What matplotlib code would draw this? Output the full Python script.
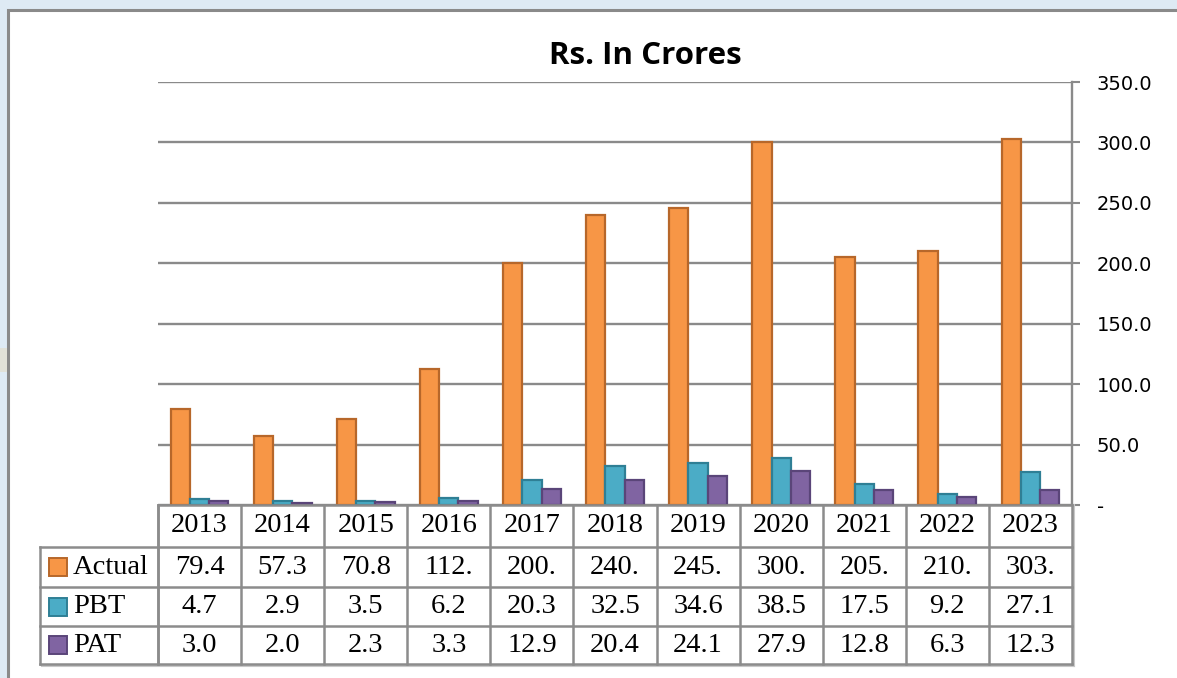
import matplotlib
matplotlib.use("Agg")
import matplotlib.pyplot as plt
from matplotlib.lines import Line2D
from matplotlib.patches import Rectangle
from matplotlib.transforms import blended_transform_factory
import numpy as np

years = ["2013", "2014", "2015", "2016", "2017", "2018", "2019", "2020", "2021", "2022", "2023"]
series_names = ["Actual", "PBT", "PAT"]
actual = [79.4, 57.3, 70.8, 112.4, 200.2, 240.3, 245.4, 300.2, 205.3, 210.4, 303.1]
pbt = [4.7, 2.9, 3.5, 6.2, 20.3, 32.5, 34.6, 38.5, 17.5, 9.2, 27.1]
pat = [3.0, 2.0, 2.3, 3.3, 12.9, 20.4, 24.1, 27.9, 12.8, 6.3, 12.3]
title = "Rs. In Crores"
yticks = [0, 50, 100, 150, 200, 250, 300, 350]

fills = ["#F79646", "#4BACC6", "#8064A2"]
edges = ["#B7672A", "#2F7F95", "#5A4579"]

W, H = 1177, 678
fig = plt.figure(figsize=(W / 100, H / 100), dpi=100)
fig.patch.set_facecolor("#DEEAF4")

# chart area (white, gray border)
fig.add_artist(Rectangle((8 / W, -0.05), 1.2, (H - 10) / H + 0.05, transform=fig.transFigure,
                         facecolor="white", edgecolor="#8A8A8A", lw=2.2, zorder=0))
fig.add_artist(Rectangle((0, (H - 372) / H), 6.5 / W, 24 / H, transform=fig.transFigure,
                         facecolor="#E1E1D8", edgecolor="none", zorder=0))

left, right, top, bottom = 158, 1072, 82, 505
ax = fig.add_axes([left / W, (H - bottom) / H, (right - left) / W, (bottom - top) / H])
ax.set_facecolor("none")

x = np.arange(len(years))
bw = 0.232
for i, vals in enumerate([actual, pbt, pat]):
    ax.bar(x + (i - 1) * bw, vals, width=bw, color=fills[i], edgecolor=edges[i], lw=1.6, zorder=3)

ax.set_xlim(-0.5, len(years) - 0.5)
ax.set_ylim(0, 350)
ax.set_yticks(yticks)
ax.yaxis.tick_right()
ax.set_yticklabels(["-" if v == 0 else f"{v:.1f}" for v in yticks],
                   fontsize=14, family="DejaVu Sans", color="black")
ax.tick_params(axis="y", length=6, width=1.5, color="#8A8A8A", pad=12)
ax.set_xticks([])
ax.grid(axis="y", color="#8A8A8A", lw=1.7, zorder=1)
for s in ["left", "top", "bottom"]:
    ax.spines[s].set_visible(False)
ax.spines["right"].set_color("#8A8A8A")
ax.spines["right"].set_linewidth(1.7)

fig.text(645 / W, (H - 56) / H, title, ha="center", va="center", fontsize=22.5,
         fontweight="bold", family="Open Sans")

# data table
ah = bottom - top
rows_px = [505, 547, 587, 626, 664]
ry = [-(r - bottom) / ah for r in rows_px]
lx = (40 - left) / (right - left)
tc = "#8C8C8C"
tlw = 1.8
tr = ax.transAxes
bt = blended_transform_factory(ax.transData, ax.transAxes)

# faint shadow on outer table edges
sdx = 2 / (right - left)
sdy = 2 / ah
fig.add_artist(Line2D([lx + sdx, 1 + sdx], [ry[-1] - sdy, ry[-1] - sdy], transform=tr,
                      color="#C8C8C8", lw=1.5, zorder=4))
fig.add_artist(Line2D([1 + sdx, 1 + sdx], [ry[0], ry[-1] - sdy], transform=tr,
                      color="#C8C8C8", lw=1.5, zorder=4))

def hline(y, x0):
    fig.add_artist(Line2D([x0, 1], [y, y], transform=tr, color=tc, lw=tlw, zorder=5))

hline(ry[0], 0)
for y in ry[1:]:
    hline(y, lx)
for b in np.arange(len(years) + 1) - 0.5:
    fig.add_artist(Line2D([b, b], [ry[0], ry[-1]], transform=bt, color=tc, lw=tlw, zorder=5))
fig.add_artist(Line2D([lx, lx], [ry[1], ry[-1]], transform=tr, color=tc, lw=tlw, zorder=5))
fig.add_artist(Line2D([0, 0], [ry[0], ry[-1]], transform=tr, color=tc, lw=tlw, zorder=5))

tfont = dict(family="Liberation Serif", fontsize=20.5, color="black")
for j, yr in enumerate(years):
    ax.text(j, (ry[0] + ry[1]) / 2, yr, transform=bt, ha="center", va="center", **tfont)
for i, vals in enumerate([actual, pbt, pat]):
    yc = (ry[i + 1] + ry[i + 2]) / 2
    for j, v in enumerate(vals):
        ax.text(j, yc, f"{v:.1f}"[:4], transform=bt, ha="center", va="center", **tfont)
    # legend key
    sq = 18 / ah
    kx = (49 - left) / (right - left)
    kw = 18 / (right - left)
    fig.add_artist(Rectangle((kx, yc - sq / 2), kw, sq, transform=tr, facecolor=fills[i],
                             edgecolor=edges[i], lw=1.4, zorder=6))
    ax.text((73 - left) / (right - left), yc, series_names[i], transform=tr,
            ha="left", va="center", **tfont)

fig.savefig("out.png", dpi=100, facecolor=fig.get_facecolor())
